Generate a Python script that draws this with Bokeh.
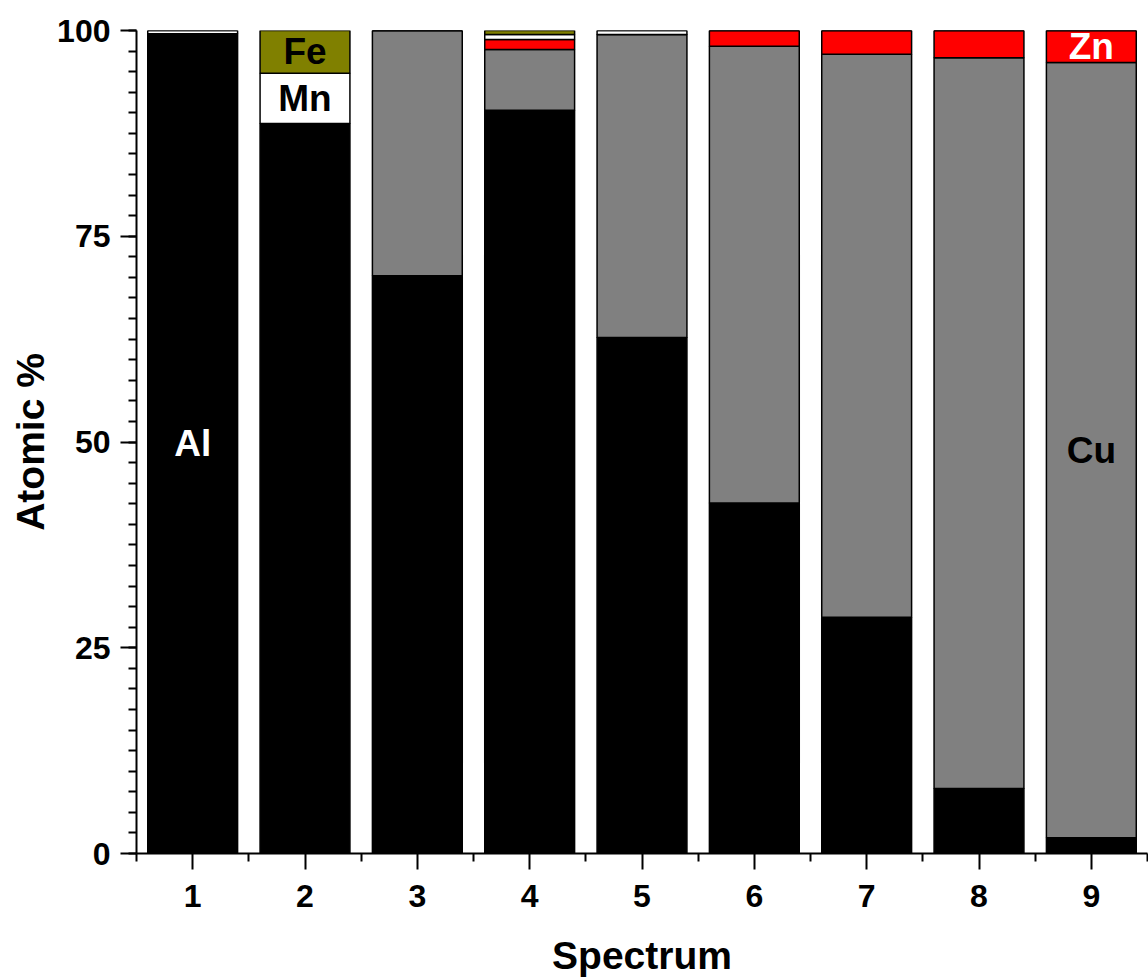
import numpy as np
from bokeh.plotting import figure
from bokeh.models import Range1d, FixedTicker, ColumnDataSource
from bokeh.core.properties import value
from bokeh.embed import file_html
from bokeh.resources import INLINE

# ---- data (atomic %) ----
spectrum = [1, 2, 3, 4, 5, 6, 7, 8, 9]
al = [99.6, 88.7, 70.2, 90.3, 62.7, 42.6, 28.7, 7.9, 1.9]
cu = [0.0, 0.0, 29.8, 7.4, 36.8, 55.5, 68.4, 88.8, 94.2]
zn = [0.0, 0.0, 0.0, 1.2, 0.0, 1.9, 2.9, 3.3, 3.9]
mn = [0.4, 6.1, 0.0, 0.6, 0.5, 0.0, 0.0, 0.0, 0.0]
fe = [0.0, 5.2, 0.0, 0.5, 0.0, 0.0, 0.0, 0.0, 0.0]
elements = ["Al", "Cu", "Zn", "Mn", "Fe"]
colors = ["#000000", "#808080", "#ff0000", "#ffffff", "#808000"]
y_ticks = [0, 25, 50, 75, 100]

# labels: (element, spectrum)
label_elem = ["Al", "Mn", "Fe", "Cu", "Zn"]
label_spec = [1, 2, 2, 9, 9]
label_color = ["#ffffff", "#000000", "#000000", "#000000", "#ffffff"]

series = {"Al": al, "Cu": cu, "Zn": zn, "Mn": mn, "Fe": fe}
src = ColumnDataSource(dict(x=spectrum, **series))

FONT = "Liberation Sans"

p = figure(width=1148, height=980,
           x_range=Range1d(0.5, 9.5), y_range=Range1d(0, 100),
           output_backend="svg", toolbar_location=None,
           min_border_left=136, min_border_right=1,
           min_border_top=30, min_border_bottom=127)
p.outline_line_color = None
p.grid.visible = False
p.background_fill_color = "white"

p.vbar_stack(elements, x="x", width=0.8, source=src,
             fill_color=colors, line_color="black", line_width=1.5)

# label positions = middle of each segment
lx, ly = [], []
for el, s in zip(label_elem, label_spec):
    i = spectrum.index(s)
    k = elements.index(el)
    below = sum(series[e][i] for e in elements[:k])
    lx.append(s)
    ly.append(below + series[el][i] / 2.0)
lsrc = ColumnDataSource(dict(x=lx, y=ly, t=label_elem, c=label_color))
p.text(x="x", y="y", text="t", text_color="c", source=lsrc,
       text_align="center", text_baseline="middle",
       text_font=value(FONT), text_font_style="bold", text_font_size="37px")

# axes
p.xaxis.ticker = FixedTicker(ticks=spectrum,
                             minor_ticks=list(np.arange(0.5, 10.0, 1.0)))
p.yaxis.ticker = FixedTicker(ticks=y_ticks,
                             minor_ticks=list(np.arange(0, 100.01, 2.5)))
p.xaxis.axis_label = "Spectrum"
p.yaxis.axis_label = "Atomic %"
for ax in (p.xaxis, p.yaxis):
    ax.axis_line_width = 2
    ax.axis_line_color = "black"
    ax.major_tick_in = 0
    ax.major_tick_out = 16
    ax.minor_tick_in = 0
    ax.minor_tick_out = 8
    ax.major_tick_line_width = 2
    ax.minor_tick_line_width = 2
    ax.major_tick_line_color = "black"
    ax.minor_tick_line_color = "black"
    ax.major_label_text_font = FONT
    ax.major_label_text_font_style = "bold"
    ax.major_label_text_font_size = "32px"
    ax.major_label_text_color = "black"
    ax.axis_label_text_font = FONT
    ax.axis_label_text_font_style = "bold"
    ax.axis_label_text_font_size = "39px"
    ax.axis_label_text_color = "black"
p.xaxis.major_label_standoff = 15
p.xaxis.axis_label_standoff = 24
p.yaxis.major_label_standoff = 10
p.yaxis.axis_label_standoff = 2

open("out.html", "w").write(file_html(p, INLINE))
